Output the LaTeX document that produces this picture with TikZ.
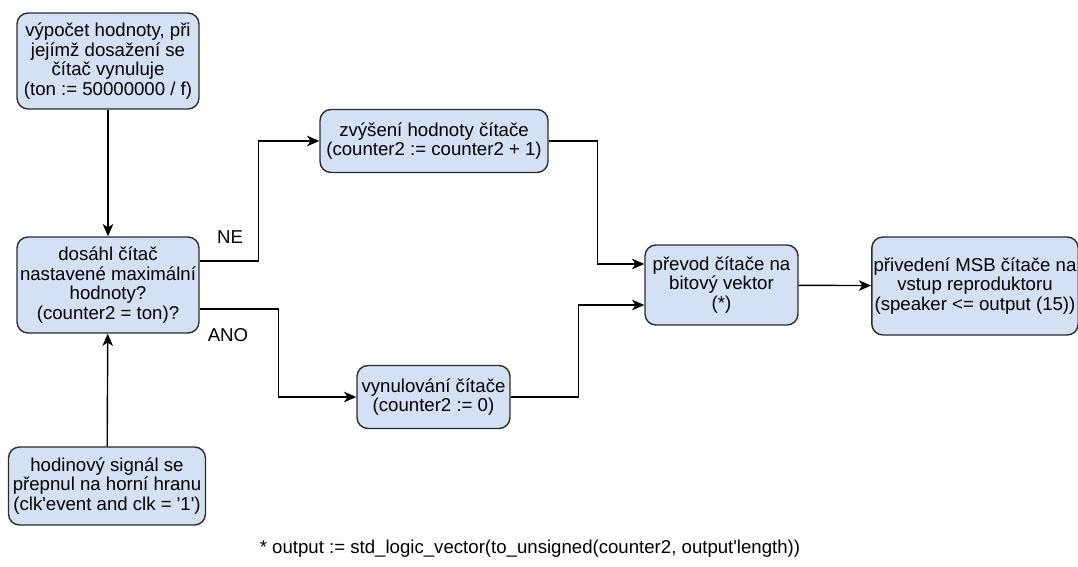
\documentclass[tikz,border=0pt]{standalone}
\usepackage{fontspec}
\setmainfont{Liberation Sans}
\usepackage{tikz}
\usetikzlibrary{arrows.meta}

\definecolor{boxfill}{HTML}{D4E1F5}
\definecolor{boxline}{HTML}{2B2B2B}
\newcommand{\apos}{\textquotesingle}

\begin{document}
\begin{tikzpicture}[x=0.02cm,y=-0.02cm,
        font=\fontsize{10.6}{11.1}\selectfont,
        stepbox/.style={rectangle,rounded corners=0.22cm,draw=boxline,fill=boxfill,
            line width=0.8pt,align=center,inner sep=1pt},
        flow/.style={line width=0.8pt,-{Stealth[length=7pt,width=6pt,inset=2pt]}}]
    \useasboundingbox (0,0) rectangle (1078,567);

    % Left column
    \node[stepbox,minimum width=3.64cm,minimum height=1.92cm] (calc) at (108,61)
        {výpočet hodnoty, při\\jejímž dosažení se\\čítač vynuluje\\(ton := 50000000 / f)};
    \node[stepbox,minimum width=3.64cm,minimum height=1.92cm] (test) at (108,285)
        {dosáhl čítač\\nastavené maximální\\hodnoty?\\(counter2 = ton)?};
    \node[stepbox,minimum width=3.94cm,minimum height=1.56cm] (clk) at (107,486)
        {hodinový signál se\\přepnul na horní hranu\\(clk\apos event and clk = \apos 1\apos)};

    % Middle column
    \node[stepbox,minimum width=4.56cm,minimum height=1.26cm] (inc) at (434,141)
        {zvýšení hodnoty čítače\\(counter2 := counter2 + 1)};
    \node[stepbox,minimum width=3.06cm,minimum height=1.26cm] (reset) at (433.5,397)
        {vynulování čítače\\(counter2 := 0)};

    % Right column
    \node[stepbox,minimum width=3.06cm,minimum height=1.6cm] (conv) at (721.5,285)
        {převod čítače na\\bitový vektor\\(*)};
    \node[stepbox,minimum width=4.08cm,minimum height=1.96cm] (out) at (975,286)
        {přivedení MSB čítače na\\vstup reproduktoru\\(speaker <= output (15))};

    % Labels
    \node (ne) at (230,237) {NE};
    \node (ano) at (228,335) {ANO};
    \node (note) at (530,549) {* output := std\_logic\_vector(to\_unsigned(counter2, output\apos length))};

    % Edges
    \draw[flow] (calc) -- (test);
    \draw[flow] (clk) -- (test);
    \draw[flow] ([yshift=0.48cm]test.east) -- ++(59,0) |- (inc.west);
    \draw[flow] ([yshift=-0.48cm]test.east) -- ++(79,0) |- (reset.west);
    \draw[flow] (inc.east) -- ++(49,0) |- ([yshift=0.42cm]conv.west);
    \draw[flow] (reset.east) -- ++(68,0) |- ([yshift=-0.4cm]conv.west);
    \draw[flow] (conv) -- (out);
\end{tikzpicture}
\end{document}
